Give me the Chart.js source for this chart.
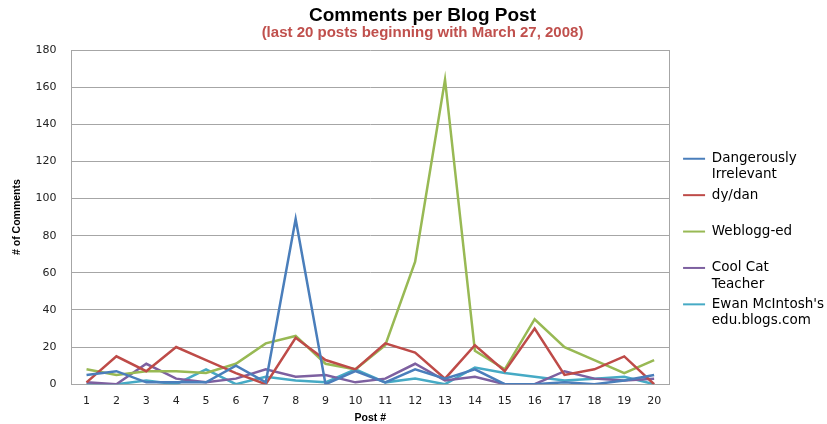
<!DOCTYPE html>
<html>
<head>
<meta charset="utf-8">
<script src="https://cdn.jsdelivr.net/npm/chart.js@4"></script>
<style>
  body { margin: 0; background: #fff; }
  #wrap { width: 827px; height: 424px; position: relative; }
</style>
</head>
<body>
<div id="wrap"><canvas id="chart"></canvas></div>
<script>
const posts = ["1","2","3","4","5","6","7","8","9","10","11","12","13","14","15","16","17","18","19","20"];

const dangerouslyIrrelevant = [5, 7, 1, 1, 1, 10, 1, 89, 0, 7, 1, 8, 3, 8, 0, 0, 1, 0, 2, 5];
const dyDan = [1, 15, 7, 20, 13, 6, 0, 25, 13, 8, 22, 17, 3, 21, 7, 30, 5, 8, 15, 0];
const webloggEd = [8, 5, 7, 7, 6, 11, 22, 26, 11, 8, 21, 66, 164, 18, 8, 35, 20, 13, 6, 13];
const coolCatTeacher = [1, 0, 11, 3, 1, 3, 8, 4, 5, 1, 3, 11, 2, 4, 0, 0, 7, 3, 2, 3];
const ewanMcIntosh = [0, 0, 2, 0, 8, 0, 4, 2, 1, 8, 1, 3, 0, 9, 6, 4, 2, 3, 4, 0];

// legend names, split the way the original wraps them
const seriesNames = [
    ["Dangerously", "Irrelevant"],
    ["dy/dan", ""],
    ["Weblogg-ed", ""],
    ["Cool Cat", "Teacher"],
    ["Ewan McIntosh's", "edu.blogs.com"]
];
const seriesColors = ["#4a7ebb", "#be4b48", "#98b954", "#7d60a0", "#46aac5"];

const seriesData = [dangerouslyIrrelevant, dyDan, webloggEd, coolCatTeacher, ewanMcIntosh];

const datasets = seriesData.map((d, i) => ({
    label: seriesNames[i].join(" ").trim(),
    data: d,
    borderColor: seriesColors[i],
    backgroundColor: seriesColors[i],
    borderWidth: 2.5,
    pointRadius: 0,
    tension: 0
}));

new Chart(document.getElementById("chart"), {
    type: "line",
    data: { labels: posts, datasets: datasets },
    options: {
        responsive: true,
        maintainAspectRatio: false,
        animation: false,
        layout: { padding: { left: 11, right: -7, top: 6, bottom: 0 } },
        plugins: {
            tooltip: { enabled: false },
            title: {
                display: true,
                text: "Comments per Blog Post",
                color: "#000",
                font: { family: "Liberation Sans", size: 19, weight: "bold", lineHeight: 1 },
                padding: { top: 0, bottom: 0 }
            },
            subtitle: {
                display: true,
                text: "(last 20 posts beginning with March 27, 2008)",
                color: "#c0504d",
                font: { family: "Liberation Sans", size: 15, weight: "bold", lineHeight: 1 },
                padding: { top: 0, bottom: 10 }
            },
            legend: {
                position: "right",
                align: "center",
                title: { display: true, text: " ", font: { size: 10 }, padding: 20 },
                labels: {
                    font: { family: "DejaVu Sans", size: 13.5 },
                    color: "#000",
                    boxWidth: 22,
                    boxHeight: 2,
                    padding: 4,
                    generateLabels: (chart) => chart.data.datasets.map((ds, i) => ({
                        text: seriesNames[i],
                        fillStyle: seriesColors[i],
                        strokeStyle: seriesColors[i],
                        fontColor: "#000",
                        lineWidth: 0,
                        hidden: false,
                        datasetIndex: i
                    }))
                }
            }
        },
        scales: {
            x: {
                offset: true,
                grid: { display: false, drawTicks: false },
                border: { display: true, color: "#a6a6a6" },
                ticks: { color: "#222", font: { family: "DejaVu Sans", size: 11 }, padding: 10, maxRotation: 0 },
                title: {
                    display: true,
                    text: "Post #",
                    color: "#000",
                    font: { family: "Liberation Sans", size: 10.5, weight: "bold" },
                    padding: { top: -6, bottom: 0 }
                }
            },
            y: {
                min: 0,
                max: 180,
                ticks: { stepSize: 20, color: "#222", font: { family: "DejaVu Sans", size: 11 }, padding: 15 },
                grid: { color: "#a6a6a6", drawTicks: false },
                border: { display: true, color: "#a6a6a6" },
                title: {
                    display: true,
                    text: "# of Comments",
                    color: "#000",
                    font: { family: "Liberation Sans", size: 10.5, weight: "bold" },
                    padding: { top: 0, bottom: -3 }
                }
            },
            // hidden scale used only as an empty strip between the plot and the legend
            gap: {
                position: "right",
                display: false,
                afterFit: (scale) => { scale.width = 10; }
            }
        }
    },
    plugins: [{
        id: "rightBorder",
        afterDraw(chart) {
            const a = chart.chartArea;
            const ctx = chart.ctx;
            ctx.save();
            ctx.strokeStyle = "#a6a6a6";
            ctx.lineWidth = 1;
            ctx.beginPath();
            ctx.moveTo(Math.round(a.right) + 0.5, a.top);
            ctx.lineTo(Math.round(a.right) + 0.5, a.bottom);
            ctx.stroke();
            ctx.restore();
        }
    }]
});
</script>
</body>
</html>
